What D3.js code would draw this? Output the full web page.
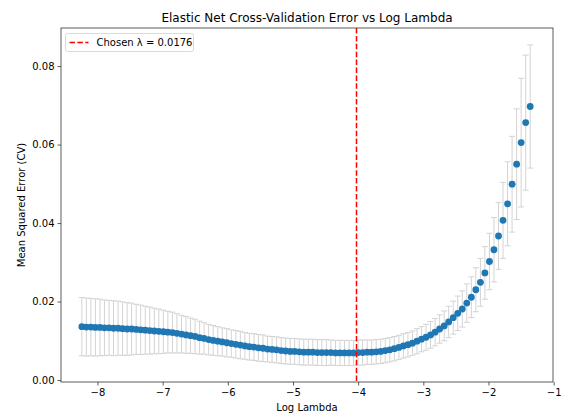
<!DOCTYPE html>
<html>
<head>
<meta charset="utf-8">
<script src="https://cdn.jsdelivr.net/npm/d3@7"></script>
<style>
  body { margin: 0; background: #fff; }
  text { font-family: "DejaVu Sans", sans-serif; fill: #000; }
</style>
</head>
<body>
<script>
// log(lambda) path, 100 values
var logLambda = [
  -8.240, -8.171, -8.101, -8.032, -7.962, -7.893, -7.823, -7.754, -7.684, -7.615,
  -7.545, -7.476, -7.406, -7.337, -7.267, -7.198, -7.128, -7.059, -6.989, -6.920,
  -6.850, -6.781, -6.711, -6.642, -6.572, -6.503, -6.433, -6.364, -6.294, -6.225,
  -6.155, -6.086, -6.016, -5.947, -5.877, -5.808, -5.738, -5.669, -5.599, -5.530,
  -5.460, -5.391, -5.321, -5.252, -5.182, -5.113, -5.043, -4.974, -4.904, -4.835,
  -4.765, -4.696, -4.626, -4.557, -4.487, -4.418, -4.348, -4.279, -4.209, -4.140,
  -4.070, -4.001, -3.931, -3.862, -3.792, -3.723, -3.653, -3.584, -3.514, -3.445,
  -3.375, -3.306, -3.236, -3.167, -3.097, -3.028, -2.958, -2.889, -2.819, -2.750,
  -2.680, -2.611, -2.541, -2.472, -2.402, -2.333, -2.263, -2.194, -2.124, -2.055,
  -1.985, -1.916, -1.846, -1.777, -1.707, -1.638, -1.568, -1.499, -1.429, -1.360
];

var cvMean = [
  0.0136, 0.0135, 0.0135, 0.0134, 0.0134, 0.0133, 0.0133, 0.0132, 0.0132, 0.0131,
  0.0130, 0.0130, 0.0129, 0.0128, 0.0127, 0.0126, 0.0125, 0.0124, 0.0123, 0.0122,
  0.0121, 0.0119, 0.0117, 0.0115, 0.0113, 0.0111, 0.0108, 0.0106, 0.0103, 0.0101,
  0.0099, 0.0097, 0.0095, 0.0093, 0.0091, 0.0089, 0.0087, 0.0085, 0.0084, 0.0082,
  0.0081, 0.0079, 0.0078, 0.0077, 0.0075, 0.0074, 0.0073, 0.0073, 0.0072, 0.0071,
  0.0071, 0.0071, 0.0070, 0.0070, 0.0070, 0.0070, 0.0069, 0.0069, 0.0069, 0.0069,
  0.0069, 0.0070, 0.0070, 0.0071, 0.0071, 0.0072, 0.0073, 0.0075, 0.0077, 0.0080,
  0.0083, 0.0087, 0.0090, 0.0094, 0.0099, 0.0104, 0.0109, 0.0115, 0.0122, 0.0130,
  0.0138, 0.0148, 0.0159, 0.0170, 0.0181, 0.0196, 0.0211, 0.0230, 0.0249, 0.0273,
  0.0302, 0.0332, 0.0367, 0.0407, 0.0449, 0.0499, 0.0550, 0.0605, 0.0656, 0.0697
];

// standard error (half height of each error bar)
var cvErr = [
  0.0074, 0.0074, 0.0073, 0.0073, 0.0072, 0.0071, 0.0070, 0.0070, 0.0069, 0.0068,
  0.0067, 0.0066, 0.0064, 0.0063, 0.0061, 0.0060, 0.0058, 0.0057, 0.0055, 0.0053,
  0.0052, 0.0050, 0.0048, 0.0047, 0.0045, 0.0044, 0.0042, 0.0040, 0.0039, 0.0038,
  0.0037, 0.0036, 0.0036, 0.0035, 0.0035, 0.0035, 0.0034, 0.0034, 0.0034, 0.0034,
  0.0034, 0.0033, 0.0033, 0.0033, 0.0033, 0.0033, 0.0033, 0.0033, 0.0033, 0.0033,
  0.0033, 0.0033, 0.0033, 0.0033, 0.0033, 0.0032, 0.0032, 0.0032, 0.0032, 0.0032,
  0.0032, 0.0032, 0.0032, 0.0031, 0.0031, 0.0031, 0.0031, 0.0031, 0.0031, 0.0031,
  0.0031, 0.0031, 0.0031, 0.0031, 0.0032, 0.0032, 0.0033, 0.0034, 0.0035, 0.0036,
  0.0038, 0.0040, 0.0042, 0.0044, 0.0046, 0.0049, 0.0052, 0.0056, 0.0061, 0.0067,
  0.0072, 0.0082, 0.0085, 0.0097, 0.0107, 0.0122, 0.0141, 0.0164, 0.0172, 0.0157
];

var chosenLambda = 0.0176;
var xTicks = [-8, -7, -6, -5, -4, -3, -2, -1];
var yTicks = [0.00, 0.02, 0.04, 0.06, 0.08];

var margins = {
  top: 28,
  bottom: 32,
  left: 61,
  right: 11
};

var width = 564;
var height = 414;

var svg = d3.select("body").append("svg")
  .attr("width", width)
  .attr("height", height);

var plotW = width - margins.left - margins.right;
var plotH = height - margins.top - margins.bottom;

var xScale = d3.scaleLinear()
  .domain([-8.56, -1.01])
  .range([margins.left, margins.left + plotW]);

var yScale = d3.scaleLinear()
  .domain([-0.0005, 0.0897])
  .range([margins.top + plotH, margins.top]);

var points = logLambda.map(function(d, i) {
  return { x: d, y: cvMean[i], e: cvErr[i] };
});

// error bars
var bars = svg.append("g").selectAll("g")
  .data(points)
  .enter()
  .append("g")
  .attr("stroke", "#d3d3d3")
  .attr("stroke-width", 1);

bars.append("line")
  .attr("x1", function(d) { return xScale(d.x); })
  .attr("x2", function(d) { return xScale(d.x); })
  .attr("y1", function(d) { return yScale(d.y - d.e); })
  .attr("y2", function(d) { return yScale(d.y + d.e); });

bars.append("line")
  .attr("x1", function(d) { return xScale(d.x) - 3; })
  .attr("x2", function(d) { return xScale(d.x) + 3; })
  .attr("y1", function(d) { return yScale(d.y + d.e); })
  .attr("y2", function(d) { return yScale(d.y + d.e); });

bars.append("line")
  .attr("x1", function(d) { return xScale(d.x) - 3; })
  .attr("x2", function(d) { return xScale(d.x) + 3; })
  .attr("y1", function(d) { return yScale(d.y - d.e); })
  .attr("y2", function(d) { return yScale(d.y - d.e); });

// mean points
svg.append("g").selectAll("circle")
  .data(points)
  .enter()
  .append("circle")
  .attr("cx", function(d) { return xScale(d.x); })
  .attr("cy", function(d) { return yScale(d.y); })
  .attr("r", 3.4)
  .attr("fill", "#1f77b4");

// chosen lambda line
var chosenX = Math.round(xScale(Math.log(chosenLambda))) + 0.5;
svg.append("line")
  .attr("x1", chosenX)
  .attr("x2", chosenX)
  .attr("y1", margins.top)
  .attr("y2", margins.top + plotH)
  .attr("stroke", "#ff0000")
  .attr("stroke-width", 1.5)
  .attr("stroke-dasharray", "5.5,2.4");

// axes
var xAxis = d3.axisBottom(xScale)
  .tickValues(xTicks)
  .tickSize(3.5)
  .tickPadding(3)
  .tickFormat(function(d) { return d3.format("d")(d).replace("-", "\u2212"); });

var yAxis = d3.axisLeft(yScale)
  .tickValues(yTicks)
  .tickSize(3.5)
  .tickPadding(3)
  .tickFormat(d3.format(".2f"));

var gx = svg.append("g")
  .attr("transform", "translate(0," + (margins.top + plotH) + ")")
  .call(xAxis);
var gy = svg.append("g")
  .attr("transform", "translate(" + margins.left + ",0)")
  .call(yAxis);

[gx, gy].forEach(function(g) {
  g.select(".domain").remove();
  g.selectAll(".tick line").attr("stroke", "#333").attr("stroke-width", 0.8);
  g.selectAll(".tick text")
    .attr("fill", "#000")
    .style("font-family", "DejaVu Sans, sans-serif")
    .style("font-size", "10px");
});

// frame
svg.append("rect")
  .attr("x", margins.left)
  .attr("y", margins.top)
  .attr("width", plotW)
  .attr("height", plotH)
  .attr("fill", "none")
  .attr("stroke", "#333")
  .attr("stroke-width", 0.8);

// title and labels
svg.append("text")
  .attr("x", margins.left + plotW / 2)
  .attr("y", 22)
  .attr("text-anchor", "middle")
  .style("font-size", "12px")
  .text("Elastic Net Cross-Validation Error vs Log Lambda");

svg.append("text")
  .attr("x", margins.left + plotW / 2)
  .attr("y", 411)
  .attr("text-anchor", "middle")
  .style("font-size", "10px")
  .text("Log Lambda");

svg.append("text")
  .attr("transform", "translate(25," + (margins.top + plotH / 2) + ") rotate(-90)")
  .attr("text-anchor", "middle")
  .style("font-size", "10px")
  .text("Mean Squared Error (CV)");

// legend
var legend = svg.append("g")
  .attr("transform", "translate(65.5,33.5)");

legend.append("rect")
  .attr("width", 128)
  .attr("height", 18)
  .attr("rx", 2)
  .attr("fill", "#fff")
  .attr("fill-opacity", 0.8)
  .attr("stroke", "#d0d0d0")
  .attr("stroke-width", 0.8);

legend.append("line")
  .attr("x1", 4)
  .attr("x2", 23)
  .attr("y1", 9)
  .attr("y2", 9)
  .attr("stroke", "#ff0000")
  .attr("stroke-width", 1.5)
  .attr("stroke-dasharray", "5.5,2.4");

legend.append("text")
  .attr("x", 31)
  .attr("y", 12.5)
  .style("font-size", "10px")
  .text("Chosen \u03bb = " + chosenLambda);
</script>
</body>
</html>
